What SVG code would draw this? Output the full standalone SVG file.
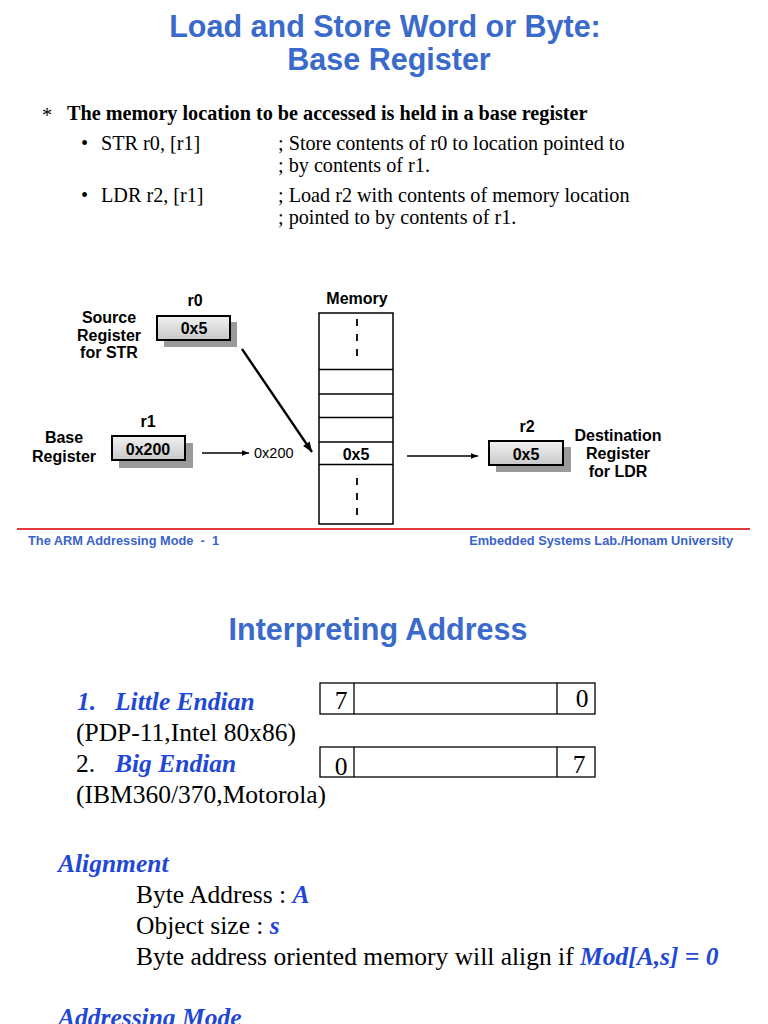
<svg xmlns="http://www.w3.org/2000/svg" width="768" height="1024" viewBox="0 0 768 1024">
<style>
.title{font-family:"Liberation Sans",Arial,sans-serif;font-weight:bold;font-size:30.5px;fill:#3a6acc;text-anchor:middle}
.ser{font-family:"Liberation Serif","Times New Roman",serif;font-size:20.2px;fill:#000}
.serb{font-family:"Liberation Serif","Times New Roman",serif;font-size:20.2px;font-weight:bold;fill:#000}
.big{font-family:"Liberation Serif","Times New Roman",serif;font-size:25.5px;fill:#000}
.bi{font-weight:bold;font-style:italic;fill:#1f48d6}
.lab{font-family:"Liberation Sans",Arial,sans-serif;font-weight:bold;font-size:16px;fill:#000;text-anchor:middle}
.val{font-family:"Liberation Sans",Arial,sans-serif;font-weight:bold;font-size:16px;fill:#000;text-anchor:middle}
.plain{font-family:"Liberation Sans",Arial,sans-serif;font-size:14.5px;fill:#000}
.foot{font-family:"Liberation Sans",Arial,sans-serif;font-weight:bold;font-size:12.8px;fill:#3a62cc}
.reg{fill:url(#g);stroke:#000;stroke-width:2}
.shadow{fill:#9a9a9a}
.mem{fill:#fff;stroke:#000;stroke-width:1.5}
.cell{stroke:#000;stroke-width:1.5}
.dash{stroke:#000;stroke-width:1.8;stroke-dasharray:7 8}
.conn{stroke:#000;stroke-width:1.5;fill:none}
.box{fill:#fff;stroke:#000;stroke-width:1.3}
</style>
<defs>
<linearGradient id="g" x1="0" y1="0" x2="0" y2="1">
<stop offset="0" stop-color="#f2f2f2"/>
<stop offset="1" stop-color="#c8c8c8"/>
</linearGradient>
<marker id="ah" viewBox="0 0 10 10" refX="10" refY="5" markerWidth="7" markerHeight="7" markerUnits="userSpaceOnUse" orient="auto">
<path d="M0,1 L10,5 L0,9 z" fill="#000"/>
</marker>
<marker id="ah2" viewBox="0 0 10 10" refX="10" refY="5" markerWidth="12" markerHeight="10" markerUnits="userSpaceOnUse" orient="auto">
<path d="M0,1 L10,5 L0,9 z" fill="#000"/>
</marker>
</defs>
<rect width="768" height="1024" fill="#fff"/>

<g id="header">
<text class="title" x="385" y="37">Load and Store Word or Byte:</text>
<text class="title" x="389" y="70">Base Register</text>
<text class="ser" x="42" y="122">*</text>
<text class="serb" x="67" y="120">The memory location to be accessed is held in a base register</text>
<text class="ser" x="81" y="150">•</text>
<text class="ser" x="101" y="150">STR r0, [r1]</text>
<text class="ser" x="278" y="150">; Store contents of r0 to location pointed to</text>
<text class="ser" x="278" y="172">; by contents of r1.</text>
<text class="ser" x="81" y="202">•</text>
<text class="ser" x="101" y="202">LDR r2, [r1]</text>
<text class="ser" x="278" y="202">; Load r2 with contents of memory location</text>
<text class="ser" x="278" y="224">; pointed to by contents of r1.</text>
</g>

<g id="r0">
<text class="lab" x="195" y="306">r0</text>
<rect class="shadow" x="164" y="322" width="73" height="25"/>
<rect class="reg" x="157" y="316" width="73" height="24"/>
<text class="val" x="194" y="334">0x5</text>
<text class="lab" x="109" y="323">Source</text>
<text class="lab" x="109" y="341">Register</text>
<text class="lab" x="109" y="358">for STR</text>
</g>

<g id="r1">
<text class="lab" x="148" y="427">r1</text>
<rect class="shadow" x="119" y="443" width="74" height="25"/>
<rect class="reg" x="112" y="436" width="73" height="24"/>
<text class="val" x="148" y="455">0x200</text>
<text class="lab" x="64" y="443">Base</text>
<text class="lab" x="64" y="462">Register</text>
</g>

<g id="memory">
<text class="lab" x="357" y="304">Memory</text>
<rect class="mem" x="319" y="313" width="74" height="211"/>
<line class="cell" x1="319" y1="369.5" x2="393" y2="369.5"/>
<line class="cell" x1="319" y1="394" x2="393" y2="394"/>
<line class="cell" x1="319" y1="417.5" x2="393" y2="417.5"/>
<line class="cell" x1="319" y1="442" x2="393" y2="442"/>
<line class="cell" x1="319" y1="464.5" x2="393" y2="464.5"/>
<line class="dash" x1="357" y1="319" x2="357" y2="357"/>
<line class="dash" x1="357" y1="478" x2="357" y2="516"/>
<text class="val" x="356" y="460">0x5</text>
</g>

<g id="r2">
<text class="lab" x="527" y="432">r2</text>
<rect class="shadow" x="496" y="447" width="75" height="25"/>
<rect class="reg" x="489" y="441" width="74" height="24"/>
<text class="val" x="526" y="460">0x5</text>
<text class="lab" x="618" y="441">Destination</text>
<text class="lab" x="618" y="459">Register</text>
<text class="lab" x="618" y="477">for LDR</text>
</g>

<g id="connectors">
<line class="conn" x1="202" y1="453" x2="249" y2="453" marker-end="url(#ah)"/>
<text class="plain" x="254" y="458">0x200</text>
<line class="conn" x1="242" y1="349" x2="312" y2="452" style="stroke-width:2.3" marker-end="url(#ah2)"/>
<line class="conn" x1="407" y1="456" x2="478" y2="456" marker-end="url(#ah)"/>
</g>

<g id="footer">
<line x1="17" y1="529" x2="750" y2="529" stroke="#e03a3a" stroke-width="2"/>
<text class="foot" x="28" y="545" xml:space="preserve">The ARM Addressing Mode  -  1</text>
<text class="foot" x="733" y="545" text-anchor="end">Embedded Systems Lab./Honam University</text>
</g>

<g id="interpreting">
<text class="title" x="378" y="640">Interpreting Address</text>
<text class="big bi" x="77" y="710">1.</text>
<text class="big bi" x="115" y="710">Little Endian</text>
<text class="big" x="76" y="741">(PDP-11,Intel 80x86)</text>
<text class="big" x="76" y="772">2.</text>
<text class="big bi" x="115" y="772">Big Endian</text>
<text class="big" x="76" y="803">(IBM360/370,Motorola)</text>
</g>

<g id="little-endian-box">
<rect class="box" x="320" y="683" width="275" height="31"/>
<line class="box" x1="354" y1="683" x2="354" y2="714"/>
<line class="box" x1="557" y1="683" x2="557" y2="714"/>
<text class="big" x="341" y="709" text-anchor="middle">7</text>
<text class="big" x="582" y="707" text-anchor="middle">0</text>
</g>

<g id="big-endian-box">
<rect class="box" x="320" y="747" width="275" height="30"/>
<line class="box" x1="354" y1="747" x2="354" y2="777"/>
<line class="box" x1="557" y1="747" x2="557" y2="777"/>
<text class="big" x="341" y="775" text-anchor="middle">0</text>
<text class="big" x="579" y="773" text-anchor="middle">7</text>
</g>

<g id="alignment">
<text class="big bi" x="58" y="872">Alignment</text>
<text class="big" x="136" y="903">Byte Address : <tspan class="bi">A</tspan></text>
<text class="big" x="136" y="934">Object size : <tspan class="bi">s</tspan></text>
<text class="big" x="136" y="965">Byte address oriented memory will align if <tspan class="bi">Mod[A,s] = 0</tspan></text>
<text class="big bi" x="58" y="1026">Addressing Mode</text>
</g>
</svg>
